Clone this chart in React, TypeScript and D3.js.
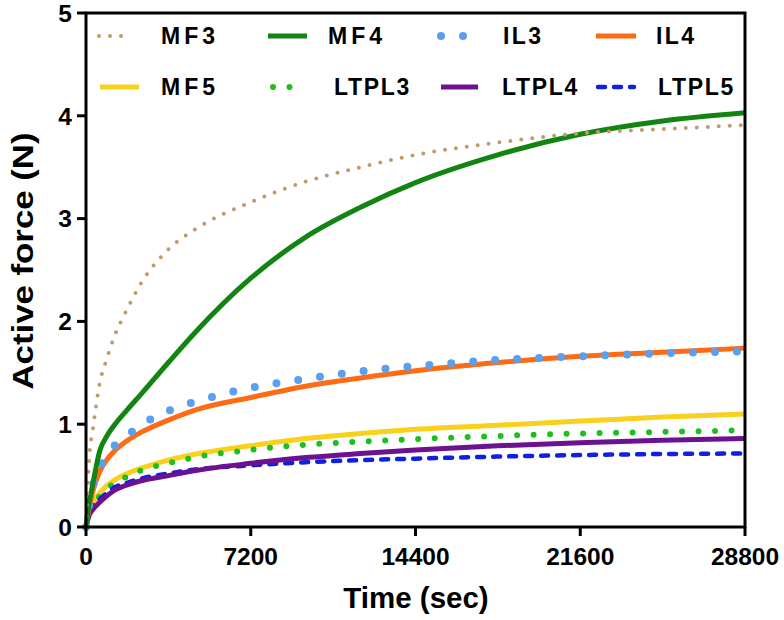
import React from "react";
import * as d3 from "d3";

const times = [0, 150, 300, 600, 900, 1200, 1800, 2400, 3600, 4800, 7200, 9600, 12000, 14400, 18000, 21600, 25200, 28800];

const MF3 = [0, 0.7, 0.95, 1.4, 1.63, 1.83, 2.12, 2.37, 2.7, 2.9, 3.16, 3.36, 3.5, 3.62, 3.74, 3.83, 3.87, 3.91];
const MF4 = [0, 0.25, 0.42, 0.74, 0.88, 0.98, 1.14, 1.29, 1.6, 1.9, 2.42, 2.82, 3.11, 3.35, 3.62, 3.82, 3.95, 4.03];
const IL3 = [0, 0.22, 0.4, 0.58, 0.69, 0.78, 0.89, 0.99, 1.13, 1.22, 1.355, 1.44, 1.515, 1.565, 1.625, 1.66, 1.69, 1.71];
const IL4 = [0, 0.2, 0.35, 0.54, 0.65, 0.73, 0.84, 0.92, 1.04, 1.14, 1.26, 1.37, 1.45, 1.52, 1.6, 1.66, 1.7, 1.74];
const MF5 = [0, 0.14, 0.22, 0.33, 0.4, 0.45, 0.52, 0.57, 0.65, 0.71, 0.79, 0.86, 0.91, 0.95, 0.99, 1.03, 1.07, 1.1];
const LTPL3 = [0, 0.13, 0.2, 0.3, 0.37, 0.42, 0.49, 0.55, 0.62, 0.68, 0.75, 0.8, 0.83, 0.855, 0.885, 0.91, 0.925, 0.94];
const LTPL4 = [0, 0.12, 0.17, 0.24, 0.3, 0.35, 0.41, 0.45, 0.5, 0.55, 0.62, 0.675, 0.715, 0.75, 0.79, 0.82, 0.845, 0.86];
const LTPL5 = [0, 0.14, 0.2, 0.27, 0.33, 0.38, 0.43, 0.47, 0.52, 0.56, 0.6, 0.63, 0.65, 0.665, 0.685, 0.7, 0.71, 0.715];

const xTicks = [0, 7200, 14400, 21600, 28800];
const yTicks = [0, 1, 2, 3, 4, 5];

type Style = { color: string; width: number; dash?: string; cap?: "round" | "butt"; ls: number };

const seriesNames = ["MF3", "MF4", "IL3", "IL4", "MF5", "LTPL3", "LTPL4", "LTPL5"];
const seriesValues = [MF3, MF4, IL3, IL4, MF5, LTPL3, LTPL4, LTPL5];
const styles: Style[] = [
  { color: "#C19A6B", width: 4, dash: "0 11", cap: "round", ls: 4 },
  { color: "#128412", width: 5, ls: 4 },
  { color: "#5AA0EE", width: 8, dash: "0 22", cap: "round", ls: 2.4 },
  { color: "#FF6A14", width: 5, ls: 2.4 },
  { color: "#F7D11B", width: 5, ls: 4 },
  { color: "#1EBE1E", width: 6, dash: "0 16.5", cap: "round", ls: 1.7 },
  { color: "#6C1190", width: 5, ls: 1.7 },
  { color: "#1020E0", width: 4.5, dash: "7 9", cap: "round", ls: 1.7 },
];
const drawOrder = [4, 5, 7, 6, 3, 2, 1, 0];

const legendPos = [
  { sx: 99, ex: 132, tx: 161, y: 36 },
  { sx: 268, ex: 307, tx: 328, y: 36 },
  { sx: 441, ex: 468, tx: 503, y: 36 },
  { sx: 596, ex: 636, tx: 656, y: 36 },
  { sx: 100, ex: 139, tx: 161, y: 87 },
  { sx: 273, ex: 306, tx: 334, y: 87 },
  { sx: 441, ex: 478, tx: 502, y: 87 },
  { sx: 598, ex: 634, tx: 658, y: 87 },
];

const W = 784;
const H = 620;
const L = 86, R = 745, T = 13, B = 527;
const FONT = "'Liberation Sans', Arial, sans-serif";
const TICK_FS = 24.5;

export default function App() {
  const x = d3.scaleLinear().domain([0, 28800]).range([L, R]);
  const y = d3.scaleLinear().domain([0, 5]).range([B, T]);
  const line = d3
    .line<number>()
    .x((_, i) => x(times[i]))
    .y((v) => y(v))
    .curve(d3.curveMonotoneX);

  return (
    <svg width={W} height={H} style={{ position: "absolute", left: 0, top: 0, background: "#fff" }}>
      <rect x={0} y={0} width={W} height={H} fill="#fff" />
      {drawOrder.map((i) => {
        const s = styles[i];
        return (
          <path
            key={seriesNames[i]}
            d={line(seriesValues[i]) || ""}
            fill="none"
            stroke={s.color}
            strokeWidth={s.width}
            strokeDasharray={s.dash}
            strokeLinecap={s.cap || "butt"}
            strokeLinejoin="round"
          />
        );
      })}
      <rect x={L} y={T} width={R - L} height={B - T} fill="none" stroke="#000" strokeWidth={3} />
      {yTicks.map((t) => (
        <g key={"y" + t}>
          <line x1={L - 9} x2={L} y1={y(t)} y2={y(t)} stroke="#000" strokeWidth={3} />
          <text
            x={72}
            y={y(t) + 8.7}
            textAnchor="end"
            fontFamily={FONT}
            fontWeight="bold"
            fontSize={TICK_FS}
            fill="#000"
          >
            {t}
          </text>
        </g>
      ))}
      {xTicks.map((t) => (
        <g key={"x" + t}>
          <line x1={x(t)} x2={x(t)} y1={B} y2={B + 9} stroke="#000" strokeWidth={3} />
          <text
            x={x(t)}
            y={565}
            textAnchor="middle"
            fontFamily={FONT}
            fontWeight="bold"
            fontSize={TICK_FS}
            fill="#000"
          >
            {t}
          </text>
        </g>
      ))}
      <text
        x={416}
        y={608}
        textAnchor="middle"
        fontFamily={FONT}
        fontWeight="bold"
        fontSize={29.5}
        fill="#000"
      >
        Time (sec)
      </text>
      <text
        transform={`translate(33,261) rotate(-90) scale(1.16,1)`}
        textAnchor="middle"
        fontFamily={FONT}
        fontWeight="bold"
        fontSize={30}
        fill="#000"
      >
        Active force (N)
      </text>
      {seriesNames.map((n, i) => {
        const p = legendPos[i];
        const s = styles[i];
        return (
          <g key={"lg" + n}>
            <line
              x1={p.sx}
              x2={p.ex}
              y1={p.y}
              y2={p.y}
              stroke={s.color}
              strokeWidth={s.width}
              strokeDasharray={s.dash}
              strokeLinecap={s.cap || "butt"}
            />
            <text
              x={p.tx}
              y={p.y + 8.2}
              fontFamily={FONT}
              fontWeight="bold"
              fontSize={23}
              letterSpacing={s.ls}
              fill="#000"
            >
              {n}
            </text>
          </g>
        );
      })}
    </svg>
  );
}
